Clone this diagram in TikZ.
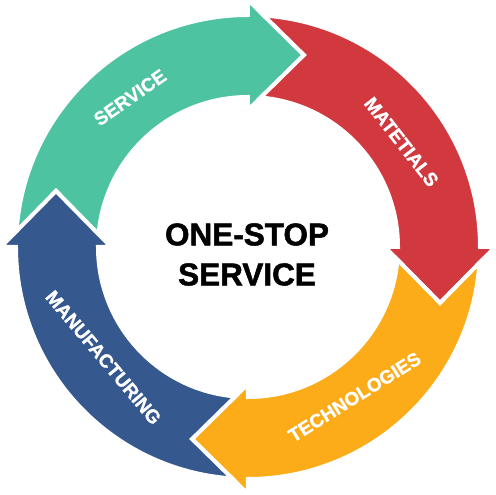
\documentclass[tikz,border=0pt]{standalone}
\usepackage{fontspec}
\setmainfont{Liberation Sans}
\newfontfamily\heavyfont[FakeBold=1.6]{Liberation Sans Bold}
\newfontfamily\lblfont[FakeBold=1.0]{Liberation Sans Bold}
\definecolor{cgreen}{RGB}{78,195,161}
\definecolor{cred}{RGB}{209,57,63}
\definecolor{cyellow}{RGB}{251,172,24}
\definecolor{cblue}{RGB}{53,88,143}
\tikzset{
  cyclearrow/.pic={
    \path[pic actions] (176.09:232) arc[start angle=176.09,end angle=90,radius=232]
      -- (0,247) -- (56,192) -- (0,137) -- (90:150)
      arc[start angle=90,end angle=175.15,radius=150] -- (-192,56) -- cycle;
  },
  gap/.style={draw=white, line width=4pt},
  lbl/.style={text=white, font=\fontsize{19}{19}\lblfont, inner sep=0pt}
}
\begin{document}
\begin{tikzpicture}[x=1pt,y=1pt]
\useasboundingbox (-248,-248) rectangle (248,247);
\pic[fill=cgreen, gap] {cyclearrow};
\pic[rotate=-90, fill=cred, gap] {cyclearrow};
\pic[rotate=-180, fill=cyellow, gap] {cyclearrow};
\pic[rotate=-270, fill=cblue, gap] {cyclearrow};
\node[align=center, font=\fontsize{31.5}{40}\heavyfont, inner sep=0pt] (center) at (-1,-7.5) {ONE-STOP\\SERVICE};
\node[lbl, rotate=35] (service) at (128.3:190.5) {SERVICE};
\node[lbl, rotate=-52] (materials) at (34.4:186) {MATETIALS};
\node[lbl, rotate=32] (tech) at (-54.6:184) {TECHNOLOGIES};
\node[lbl, rotate=-50] (manu) at (-142.6:182) {MANUFACTURING};
\end{tikzpicture}
\end{document}
